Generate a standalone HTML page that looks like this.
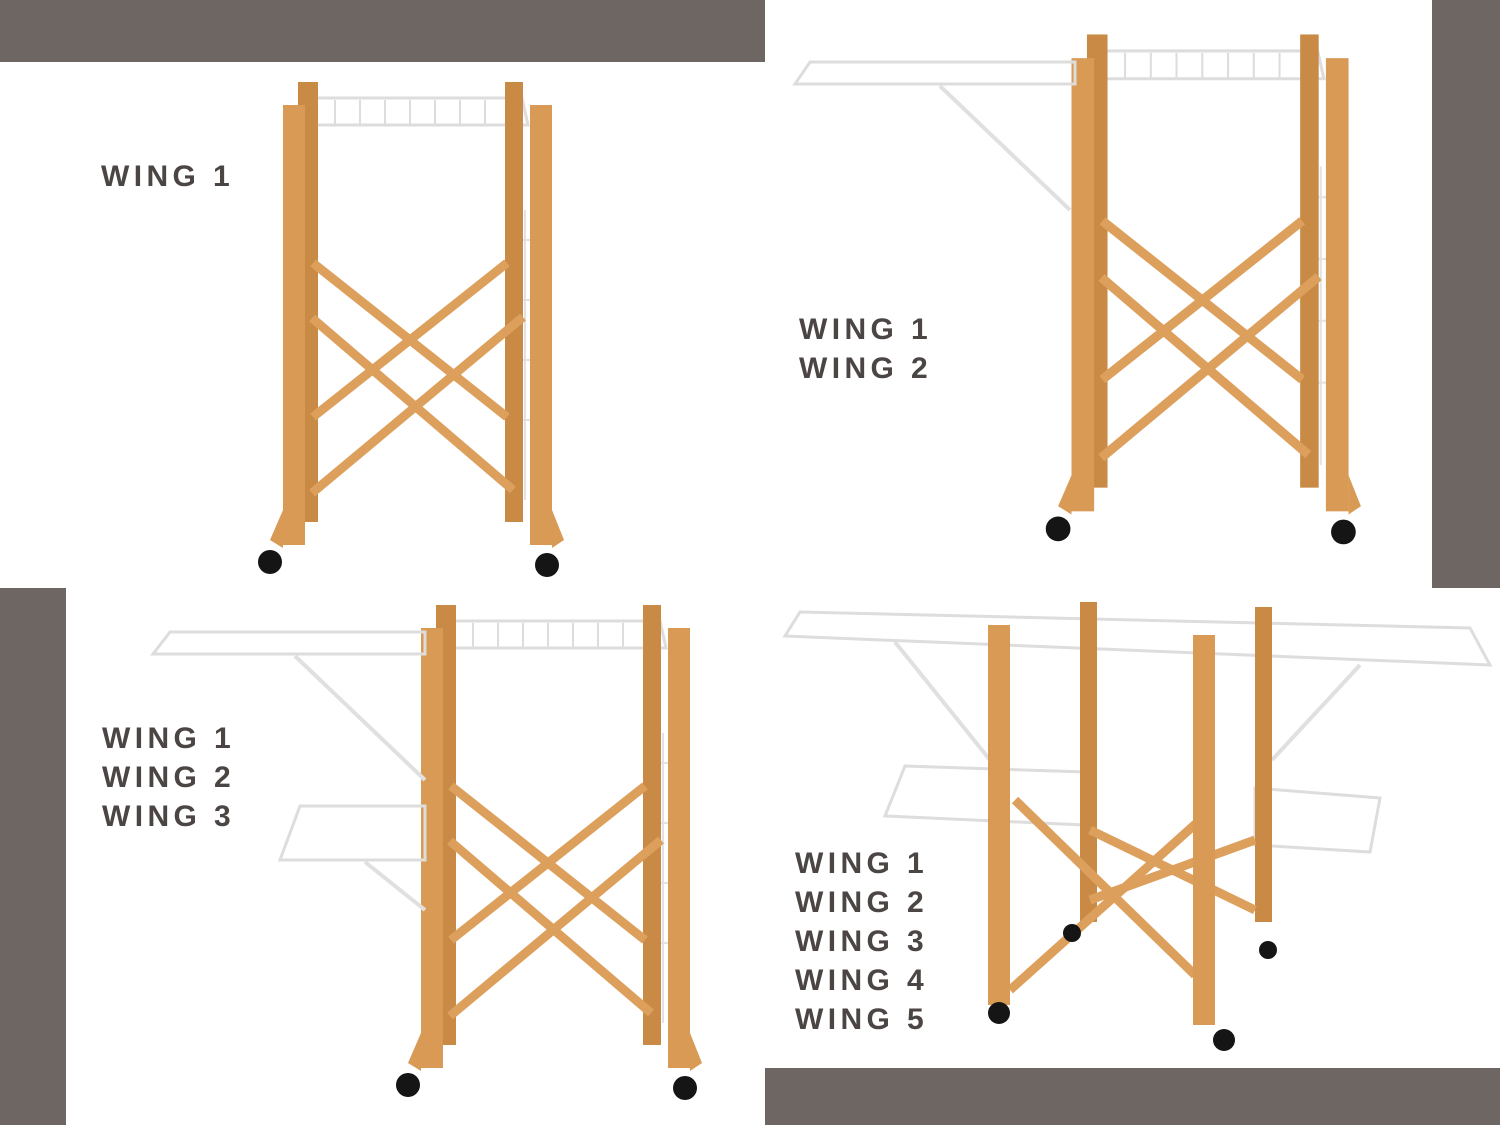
<!DOCTYPE html>
<html><head><style>
body{margin:0;width:1500px;height:1125px;background:#fff;position:relative;overflow:hidden;font-family:"Liberation Sans",sans-serif}
.bar{position:absolute;background:#6e6662}
.t{position:absolute;color:#4b4543;font-weight:bold;font-size:30px;letter-spacing:4.4px;line-height:39px}
svg{position:absolute;left:0;top:0}
</style></head><body>
<div class="bar" style="left:0;top:0;width:765px;height:62px"></div>
<div class="bar" style="left:1432px;top:0;width:68px;height:588px"></div>
<div class="bar" style="left:0;top:588px;width:66px;height:537px"></div>
<div class="bar" style="left:765px;top:1068px;width:735px;height:57px"></div>
<div class="t" style="left:101px;top:157px">WING 1</div>
<div class="t" style="left:799px;top:310px">WING 1<br>WING 2</div>
<div class="t" style="left:102px;top:719px">WING 1<br>WING 2<br>WING 3</div>
<div class="t" style="left:795px;top:844px">WING 1<br>WING 2<br>WING 3<br>WING 4<br>WING 5</div>
<svg width="1500" height="1125">
<defs>
<g id="rack">
<polygon points="310,98 522,98 528,125 308,125" fill="none" stroke="#ddd" stroke-width="3"/>
<g stroke="#ddd" stroke-width="2"><line x1="335" y1="100" x2="335" y2="125"/><line x1="360" y1="100" x2="360" y2="125"/><line x1="385" y1="100" x2="385" y2="125"/><line x1="410" y1="100" x2="410" y2="125"/><line x1="435" y1="100" x2="435" y2="125"/><line x1="460" y1="100" x2="460" y2="125"/><line x1="485" y1="100" x2="485" y2="125"/><line x1="510" y1="100" x2="510" y2="125"/></g>
<g stroke="#e2e2e2" stroke-width="2"><line x1="525" y1="210" x2="525" y2="500"/><line x1="520" y1="240" x2="530" y2="240"/><line x1="520" y1="300" x2="530" y2="300"/><line x1="520" y1="360" x2="530" y2="360"/><line x1="520" y1="420" x2="530" y2="420"/></g>
<rect x="298" y="82" width="20" height="440" fill="#c98a45"/>
<rect x="505" y="82" width="18" height="440" fill="#c98a45"/>
<g stroke="#dc9f5c" stroke-width="9">
<line x1="313" y1="263" x2="507" y2="417"/><line x1="507" y1="263" x2="313" y2="417"/>
<line x1="312" y1="318" x2="513" y2="490"/><line x1="523" y1="317" x2="312" y2="493"/>
</g>
<rect x="283" y="105" width="22" height="440" fill="#d99a55"/>
<rect x="530" y="105" width="22" height="440" fill="#d99a55"/>
<polygon points="283,510 270,540 283,548" fill="#d99a55"/>
<polygon points="552,510 564,540 552,548" fill="#d99a55"/>
<circle cx="270" cy="562" r="12" fill="#151515"/>
<circle cx="547" cy="565" r="12" fill="#151515"/>
</g>
</defs>
<use href="#rack"/>
<g transform="translate(780,-50) scale(1.03)"><use href="#rack"/></g>
<polygon points="810,62 1075,62 1075,84 795,84" fill="none" stroke="#ddd" stroke-width="3"/>
<line x1="940" y1="86" x2="1070" y2="210" stroke="#e0e0e0" stroke-width="4"/>
<g transform="translate(138,523)"><use href="#rack"/></g>
<polygon points="170,632 425,632 425,654 153,654" fill="none" stroke="#ddd" stroke-width="3"/>
<line x1="295" y1="656" x2="425" y2="780" stroke="#e0e0e0" stroke-width="4"/>
<polygon points="300,806 425,806 425,860 280,860" fill="none" stroke="#ddd" stroke-width="3"/>
<line x1="365" y1="862" x2="425" y2="910" stroke="#e0e0e0" stroke-width="4"/>
<g>
<polygon points="800,612 1470,628 1490,665 785,636" fill="none" stroke="#ddd" stroke-width="3"/>
<polygon points="905,766 1085,772 1085,825 885,816" fill="none" stroke="#ddd" stroke-width="3"/>
<polygon points="1255,788 1380,798 1370,852 1255,845" fill="none" stroke="#ddd" stroke-width="3"/>
<line x1="895" y1="642" x2="990" y2="760" stroke="#e0e0e0" stroke-width="4"/>
<line x1="1360" y1="665" x2="1272" y2="760" stroke="#e0e0e0" stroke-width="4"/>
<rect x="1080" y="602" width="17" height="320" fill="#c98a45"/>
<rect x="1255" y="607" width="17" height="315" fill="#c98a45"/>
<g stroke="#dc9f5c" stroke-width="9">
<line x1="1015" y1="800" x2="1195" y2="975"/><line x1="1200" y1="820" x2="1010" y2="990"/>
<line x1="1090" y1="830" x2="1255" y2="910"/><line x1="1090" y1="900" x2="1255" y2="840"/>
</g>
<rect x="988" y="625" width="22" height="380" fill="#d99a55"/>
<rect x="1193" y="635" width="22" height="390" fill="#d99a55"/>
<circle cx="999" cy="1013" r="11" fill="#151515"/>
<circle cx="1224" cy="1040" r="11" fill="#151515"/>
<circle cx="1072" cy="933" r="9" fill="#151515"/>
<circle cx="1268" cy="950" r="9" fill="#151515"/>
</g>
</svg>
</body></html>
